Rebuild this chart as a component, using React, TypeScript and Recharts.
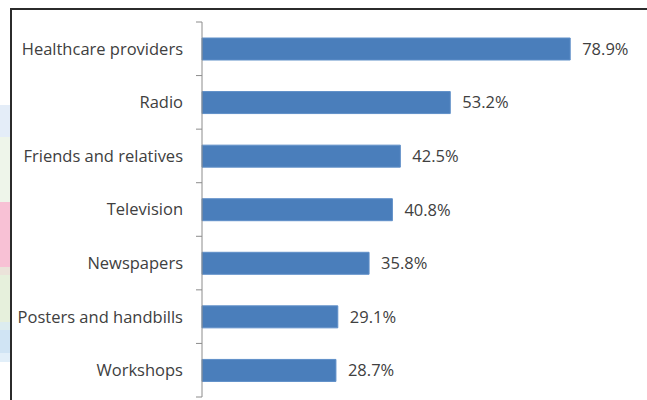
import React from 'react';
import { BarChart, Bar, XAxis, YAxis, LabelList } from 'recharts';

const categories = [
  'Healthcare providers',
  'Radio',
  'Friends and relatives',
  'Television',
  'Newspapers',
  'Posters and handbills',
  'Workshops',
];
const percentages = [78.9, 53.2, 42.5, 40.8, 35.8, 29.1, 28.7];

const data = categories.map((name, i) => ({ name, value: percentages[i] }));

// decorative colour strips on the far left, outside the frame
const strips = [
  { top: 105, h: 32, c: '#e4edf8' },
  { top: 137, h: 65, c: '#eef5ea' },
  { top: 202, h: 65, c: '#f8c1d5' },
  { top: 267, h: 8, c: '#ebe3da' },
  { top: 275, h: 47, c: '#e6f0dc' },
  { top: 322, h: 8, c: '#dcecef' },
  { top: 330, h: 23, c: '#d0e4f4' },
  { top: 353, h: 9, c: '#e2eff9' },
];

const FONT = '"Open Sans", sans-serif';
const TEXT = '#404040';
const AXIS = '#8c8c8c';

const CategoryTick = (props: any) => {
  const { x, y, payload, index, visibleTicksCount } = props;
  const half = payload && typeof payload.offset === 'number' && payload.offset > 2 ? payload.offset : 27;
  const axisX = x + 19;
  return (
    <g>
      <line x1={axisX - 6} x2={axisX} y1={y - half} y2={y - half} stroke={AXIS} strokeWidth={1} />
      {index === visibleTicksCount - 1 && (
        <line x1={axisX - 6} x2={axisX} y1={y + half} y2={y + half} stroke={AXIS} strokeWidth={1} />
      )}
      <text x={x} y={y} dy="0.36em" textAnchor="end" fill={TEXT} fontSize={16.5} fontFamily={FONT}>
        {payload.value}
      </text>
    </g>
  );
};

export default function App() {
  return (
    <div
      style={{
        position: 'absolute',
        left: 0,
        top: 0,
        width: 647,
        height: 400,
        background: '#ffffff',
        overflow: 'hidden',
        fontFamily: FONT,
      }}
    >
      {strips.map((s, i) => (
        <div
          key={i}
          style={{ position: 'absolute', left: 0, top: s.top, width: 10, height: s.h, background: s.c }}
        />
      ))}
      <div style={{ position: 'absolute', left: 10, top: 8, width: 637, height: 2, background: '#2b2b2b' }} />
      <div style={{ position: 'absolute', left: 10, top: 8, width: 2, height: 392, background: '#2b2b2b' }} />
      <div style={{ position: 'absolute', left: 0, top: 0 }}>
        <BarChart
          width={647}
          height={400}
          data={data}
          layout="vertical"
          margin={{ top: 22, right: 25, bottom: 3, left: 0 }}
        >
          <XAxis type="number" domain={[0, 90]} hide />
          <YAxis
            type="category"
            dataKey="name"
            width={202}
            axisLine={{ stroke: AXIS, strokeWidth: 1 }}
            tickLine={false}
            tickSize={6}
            tickMargin={13}
            tick={<CategoryTick />}
            interval={0}
          />
          <Bar
            dataKey="value"
            fill="#4a7ebb"
            stroke="#5f8fc8"
            strokeWidth={1}
            barSize={22}
            isAnimationActive={false}
          >
            <LabelList
              dataKey="value"
              position="right"
              offset={12}
              formatter={(v: any) => `${Number(v).toFixed(1)}%`}
              fill={TEXT}
              fontSize={16.5}
              fontFamily={FONT}
            />
          </Bar>
        </BarChart>
      </div>
    </div>
  );
}
